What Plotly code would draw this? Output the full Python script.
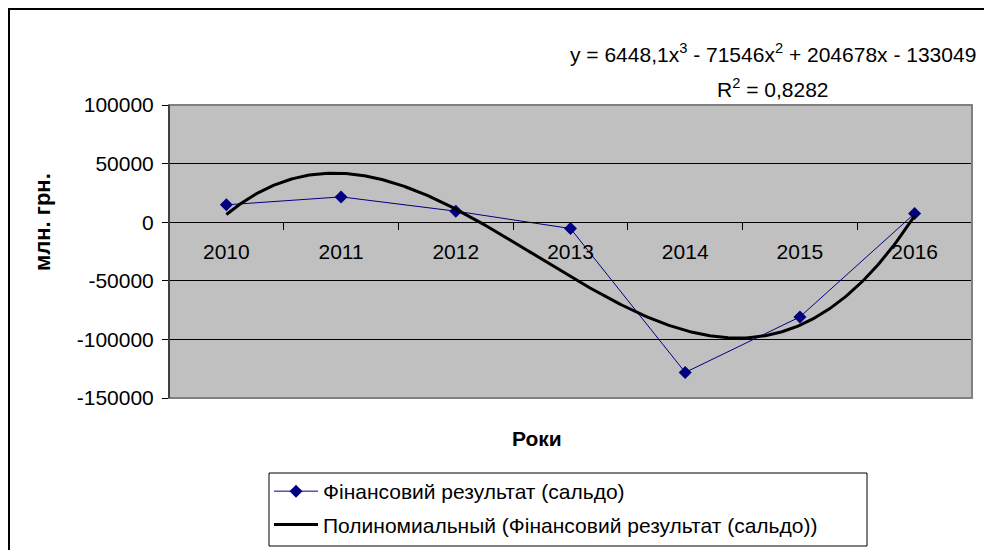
import numpy as np
import plotly.graph_objects as go

years = ["2010", "2011", "2012", "2013", "2014", "2015", "2016"]
saldo = [14800, 21600, 9400, -5400, -128200, -80800, 7400]
trend_coefs = [6448.1, -71546, 204678, -133049]  # cubic trend from chart equation
series_name = "Фінансовий результат (сальдо)"
trend_name = "Полиномиальный (Фінансовий результат (сальдо))"
y_ticks = [-150000, -100000, -50000, 0, 50000, 100000]
y_tick_text = ["-150000", "-100000", "-50000", "0", "50000", "100000"]

FONT = "Liberation Sans, Arial, sans-serif"
FS = 21

xpos = list(range(1, len(years) + 1))
xs = np.linspace(1, len(years), 300)
ys = np.polyval(trend_coefs, xs)

fig = go.Figure()
fig.add_trace(go.Scatter(
    x=xpos, y=saldo, mode="lines+markers", name=series_name,
    line=dict(color="#000080", width=1),
    marker=dict(symbol="diamond", size=10, color="#000080"),
    legendgroup="a",
))
fig.add_trace(go.Scatter(
    x=xs, y=ys, mode="lines", name=trend_name,
    line=dict(color="black", width=3),
    legendgroup="b",
))

L, R, T, B = 169, 12, 105, 152
W, H = 984, 550
pw, ph = W - L - R, H - T - B

def px(xp):
    return (xp - L) / pw

def py(yp):
    return (H - B - yp) / ph

zero_pos = (0 - y_ticks[0]) / (y_ticks[-1] - y_ticks[0])

fig.update_layout(
    width=W, height=H,
    margin=dict(l=L, r=R, t=T, b=B, pad=0, autoexpand=False),
    paper_bgcolor="white",
    plot_bgcolor="#C0C0C0",
    font=dict(family=FONT, size=FS, color="black"),
    showlegend=True,
    legend=dict(
        x=px(269), y=py(471), xanchor="left", yanchor="top",
        bgcolor="rgba(0,0,0,0)", borderwidth=0,
        font=dict(size=FS, family=FONT),
        traceorder="grouped", tracegroupgap=3, itemwidth=44,
    ),
    xaxis=dict(
        range=[0.5, len(years) + 0.5], tickmode="array", tickvals=xpos, ticktext=years,
        ticks="", showgrid=False, zeroline=False, showline=True, linecolor="black",
        linewidth=1, anchor="free", position=zero_pos, ticklabelstandoff=11,
        tickfont=dict(size=FS),
    ),
    xaxis2=dict(
        range=[0.5, len(years) + 0.5], overlaying="x", tickmode="array",
        tickvals=[i + 0.5 for i in range(len(years) + 1)], ticks="outside", ticklen=7,
        tickcolor="black", showticklabels=False, showgrid=False, zeroline=False,
        showline=False, anchor="free", position=zero_pos,
    ),
    yaxis=dict(
        range=[y_ticks[0], y_ticks[-1]], tickmode="array", tickvals=y_ticks,
        ticktext=y_tick_text,
        ticks="outside", ticklen=6, tickcolor="black", showline=True, linecolor="black",
        linewidth=1, showgrid=True, gridcolor="black", gridwidth=1, zeroline=False,
        tickfont=dict(size=FS), domain=[0, 1], ticklabelstandoff=4,
    ),
)

# invisible trace to activate xaxis2
fig.add_trace(go.Scatter(x=[1], y=[0], xaxis="x2", mode="markers",
                         marker=dict(opacity=0), showlegend=False, hoverinfo="skip"))

fig.add_shape(type="rect", xref="paper", yref="paper", x0=0, x1=1, y0=0, y1=1,
              line=dict(color="#808080", width=2), layer="above")
fig.add_shape(type="line", xref="paper", yref="paper", x0=0, x1=0, y0=0, y1=1,
              line=dict(color="black", width=1), layer="above")
fig.add_shape(type="rect", xref="paper", yref="paper",
              x0=px(9), x1=px(995), y0=py(565), y1=py(9),
              line=dict(color="black", width=2), layer="above")
# legend frame
fig.add_shape(type="rect", xref="paper", yref="paper",
              x0=px(269), x1=px(867), y0=py(546), y1=py(473),
              line=dict(color="black", width=1), fillcolor="white", layer="below")

fig.add_annotation(text="y = 6448,1x<sup>3</sup> - 71546x<sup>2</sup> + 204678x - 133049",
                   xref="paper", yref="paper", x=px(773), y=py(53),
                   xanchor="center", yanchor="middle", showarrow=False,
                   font=dict(size=FS, family=FONT))
fig.add_annotation(text="R<sup>2</sup> = 0,8282",
                   xref="paper", yref="paper", x=px(773), y=py(88),
                   xanchor="center", yanchor="middle", showarrow=False,
                   font=dict(size=FS, family=FONT))
fig.add_annotation(text="<b>Роки</b>", xref="paper", yref="paper",
                   x=px(537), y=py(438), xanchor="center", yanchor="middle",
                   showarrow=False, font=dict(size=FS, family=FONT))
fig.add_annotation(text="<b>млн. грн.</b>", xref="paper", yref="paper",
                   x=px(42), y=py(222), xanchor="center", yanchor="middle",
                   textangle=-90, showarrow=False, font=dict(size=FS + 1, family=FONT))

fig.write_html("out.html", config={"displayModeBar": False},
               post_script="document.body.style.margin='0';")
